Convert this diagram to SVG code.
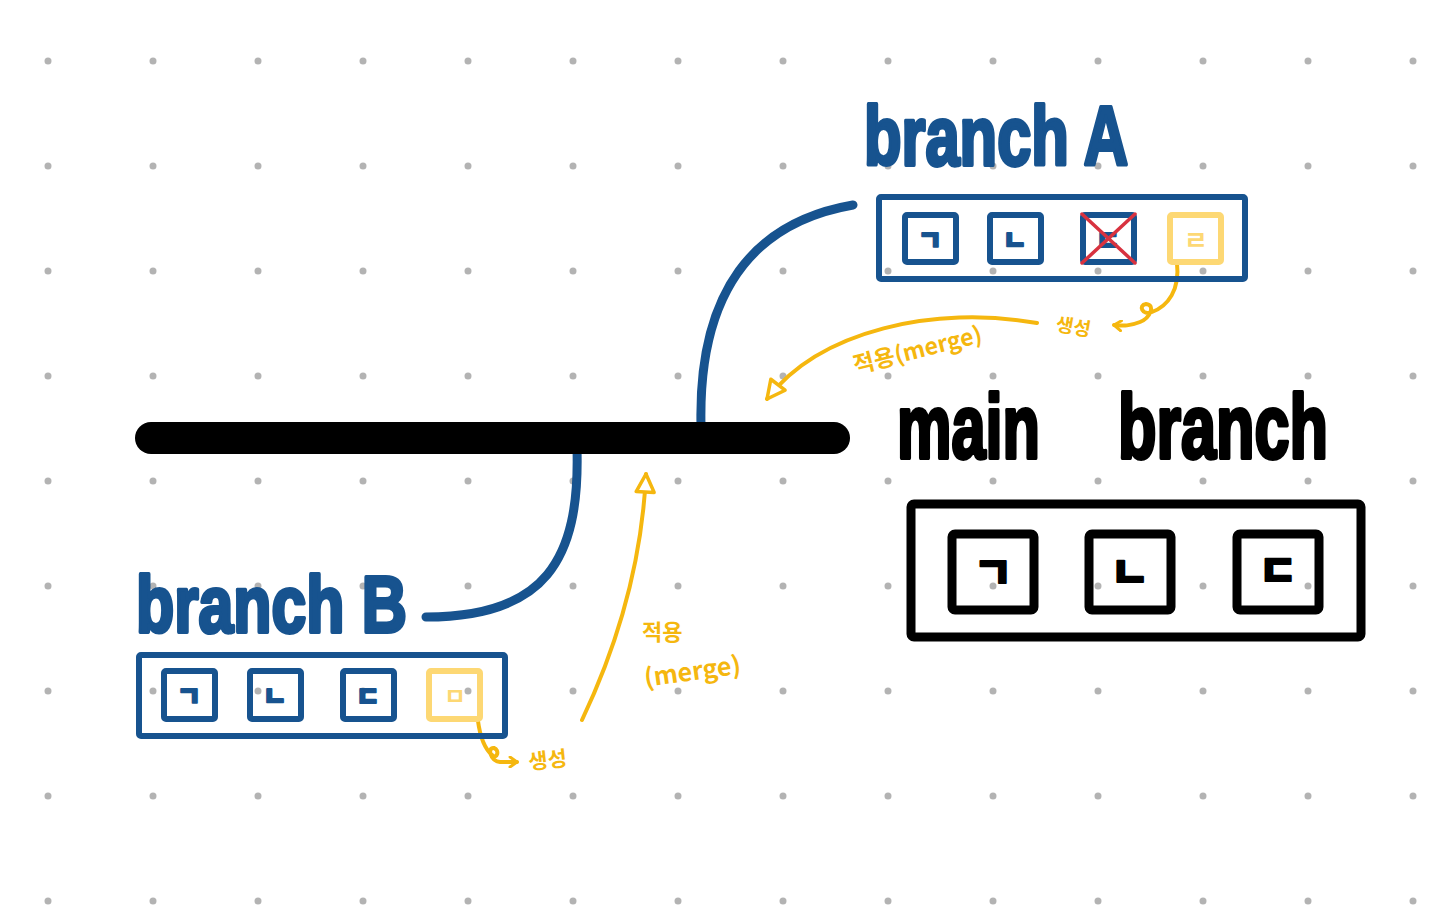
<svg xmlns="http://www.w3.org/2000/svg" width="1440" height="918" viewBox="0 0 1440 918">
<style>
.dot{fill:#b3b3b3}
.blue{fill:none;stroke:#17538f;stroke-width:6;stroke-linejoin:round}
.blk{fill:none;stroke:#000;stroke-width:9;stroke-linejoin:round}
.yb{fill:none;stroke:#fdd874;stroke-width:6;stroke-linejoin:round}
.conn{fill:none;stroke-linecap:round;stroke-linejoin:round}
.hand{font-family:"Liberation Sans","Noto Sans",sans-serif;font-weight:bold;stroke-linejoin:round}
.hb{fill:#17538f;stroke:#17538f;stroke-width:4}
.hk{fill:#000;stroke:#000;stroke-width:4}
.g{font-family:"Noto Sans CJK KR",sans-serif;font-weight:900;text-anchor:middle;stroke-width:2;stroke-linejoin:round}
.gy{font-family:"Noto Sans CJK KR",sans-serif;font-weight:bold;text-anchor:middle;fill:#fdd874}
.ylab{font-family:"Noto Sans CJK KR","Liberation Sans",sans-serif;font-weight:bold;fill:#f5b70f}
</style>
<defs>
<pattern id="dots" x="0" y="0" width="105" height="105" patternUnits="userSpaceOnUse" patternTransform="translate(48,61)">
<circle cx="0" cy="0" r="3.5" class="dot"/><circle cx="105" cy="0" r="3.5" class="dot"/><circle cx="0" cy="105" r="3.5" class="dot"/><circle cx="105" cy="105" r="3.5" class="dot"/>
</pattern>
<marker id="tri" viewBox="0 0 24 24" refX="21" refY="12" markerWidth="24" markerHeight="24" markerUnits="userSpaceOnUse" orient="auto">
<path d="M3,3 L21,12 L3,21 Z" fill="#fff" stroke="#f5b70f" stroke-width="3.5" stroke-linejoin="round"/>
</marker>
<marker id="hook" viewBox="0 0 12 12" refX="10" refY="6" markerWidth="12" markerHeight="12" markerUnits="userSpaceOnUse" orient="auto">
<path d="M3,1 L10,6 L3,11" fill="none" stroke="#f5b70f" stroke-width="3" stroke-linecap="round" stroke-linejoin="round"/>
</marker>
</defs>
<rect width="1440" height="918" fill="#fff"/>
<rect x="40" y="55" width="1380" height="850" fill="url(#dots)"/>

<g id="connectors">
<path class="conn" d="M577,449 C580,560 545,617 426,617" stroke="#17538f" stroke-width="9"/>
<path class="conn" d="M853,205 C755,222 698,290 701,425" stroke="#17538f" stroke-width="9"/>
<path class="conn" d="M1037,323 C935,305 820,330 767,399" stroke="#f5b70f" stroke-width="4" marker-end="url(#tri)"/>
<path class="conn" d="M582,720 C620,640 642,560 646,474" stroke="#f5b70f" stroke-width="4" marker-end="url(#tri)"/>
<path class="conn" d="M1177,263 C1180,290 1168,306 1152,312 C1142,316 1138,305 1146,304 C1156,305 1150,318 1140,322 C1130,326 1124,326 1114,325" stroke="#f5b70f" stroke-width="4" marker-end="url(#hook)"/>
<path class="conn" d="M478,721 C480,736 484,748 492,755 C497,760 500,750 494,748 C487,747 490,761 500,762 L517,762" stroke="#f5b70f" stroke-width="4" marker-end="url(#hook)"/>
</g>

<g id="main-line">
<line x1="151" y1="438" x2="834" y2="438" stroke="#000" stroke-width="32" stroke-linecap="round"/>
</g>

<g id="main-branch">
<text class="hand hk" font-size="90" y="458"><tspan x="897" textLength="143" lengthAdjust="spacingAndGlyphs">main</tspan> <tspan x="1118" textLength="210" lengthAdjust="spacingAndGlyphs">branch</tspan></text>
<rect class="blk" x="911" y="504" width="450" height="133" rx="3"/>
<rect class="blk" x="952" y="534" width="82" height="76" rx="3"/>
<rect class="blk" x="1089" y="534" width="82" height="76" rx="3"/>
<rect class="blk" x="1237" y="534" width="82" height="76" rx="3"/>
<text class="g" x="993" y="588" font-size="42" fill="#000" stroke="#000">ㄱ</text>
<text class="g" x="1130" y="588" font-size="42" fill="#000" stroke="#000">ㄴ</text>
<text class="g" x="1278" y="586" font-size="42" fill="#000" stroke="#000">ㄷ</text>
</g>

<g id="branch-a">
<text class="hand hb" x="864" y="165" font-size="84" textLength="264" lengthAdjust="spacingAndGlyphs">branch A</text>
<rect class="blue" x="879" y="197" width="366" height="82" rx="2"/>
<rect class="blue" x="905" y="215" width="51" height="47" rx="2"/>
<rect class="blue" x="990" y="215" width="51" height="47" rx="2"/>
<rect class="blue" x="1083" y="215" width="51" height="47" rx="2"/>
<rect class="yb" x="1170" y="215" width="51" height="47" rx="2"/>
<text class="g" x="930" y="250" font-size="26" fill="#17538f" stroke="#17538f">ㄱ</text>
<text class="g" x="1015" y="250" font-size="26" fill="#17538f" stroke="#17538f">ㄴ</text>
<text class="g" x="1108" y="250" font-size="26" fill="#17538f" stroke="#17538f">ㄷ</text>
<line x1="1082" y1="214" x2="1135" y2="263" stroke="#d8323f" stroke-width="3.5" stroke-linecap="round"/>
<line x1="1135" y1="214" x2="1082" y2="263" stroke="#d8323f" stroke-width="3.5" stroke-linecap="round"/>
<text class="gy" x="1196" y="250" font-size="26">ㄹ</text>
<text class="ylab" x="1056" y="334" font-size="19" transform="rotate(10 1076 326)">생성</text>
<text class="ylab" x="918" y="358" font-size="23" text-anchor="middle" transform="rotate(-14 918 352)">적용(merge)</text>
</g>

<g id="branch-b">
<text class="hand hb" x="136" y="632" font-size="80" textLength="271" lengthAdjust="spacingAndGlyphs">branch B</text>
<rect class="blue" x="139" y="655" width="366" height="81" rx="2"/>
<rect class="blue" x="164" y="671" width="51" height="48" rx="2"/>
<rect class="blue" x="250" y="671" width="51" height="48" rx="2"/>
<rect class="blue" x="343" y="671" width="51" height="48" rx="2"/>
<rect class="yb" x="429" y="671" width="51" height="48" rx="2"/>
<text class="g" x="189" y="706" font-size="26" fill="#17538f" stroke="#17538f">ㄱ</text>
<text class="g" x="275" y="706" font-size="26" fill="#17538f" stroke="#17538f">ㄴ</text>
<text class="g" x="368" y="706" font-size="26" fill="#17538f" stroke="#17538f">ㄷ</text>
<text class="gy" x="455" y="705" font-size="24">ㅁ</text>
<text class="ylab" x="528" y="767" font-size="21" transform="rotate(-6 553 757)">생성</text>
<text class="ylab" x="642" y="640" font-size="22">적용</text>
<text class="ylab" x="644" y="680" font-size="25" transform="rotate(-8 694 672)">(merge)</text>
</g>
</svg>
